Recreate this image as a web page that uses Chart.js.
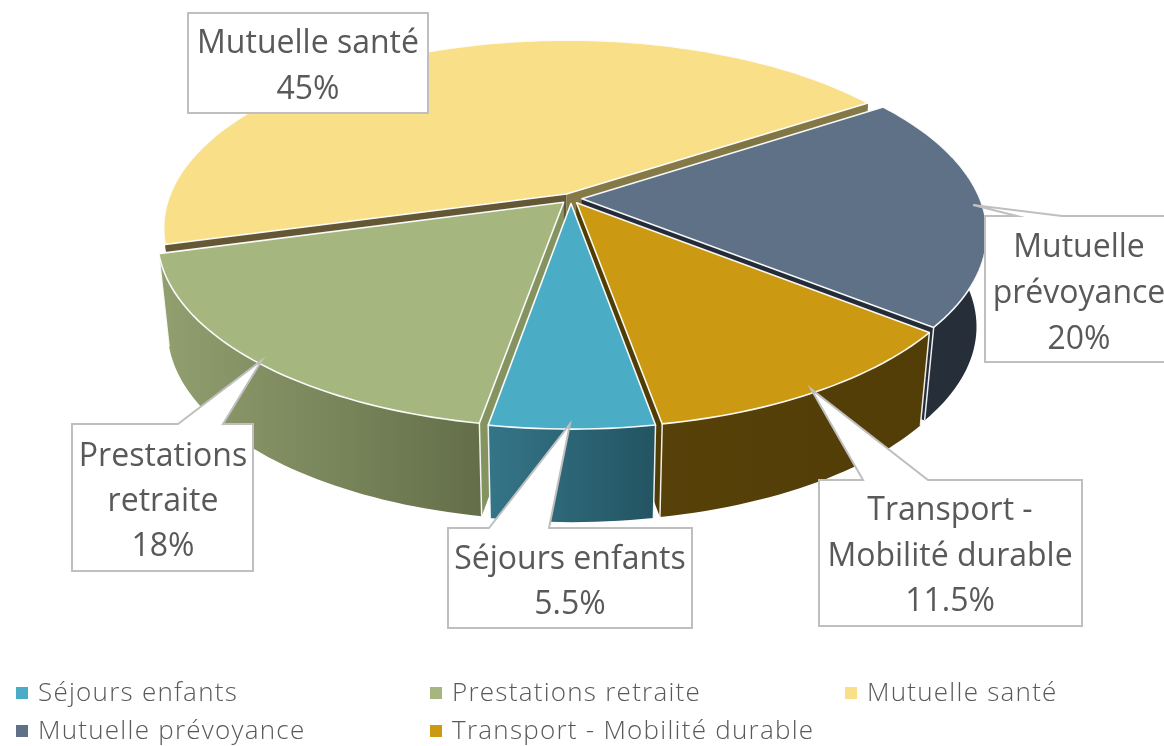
<!DOCTYPE html>
<html lang="fr">
<head>
    <meta charset="UTF-8">
    <title>Répartition</title>
    <script src="https://cdn.jsdelivr.net/npm/chart.js"></script>
    <style>
        body { margin: 0; background: #ffffff; }
        canvas { display: block; }
    </style>
</head>
<body>
    <canvas id="pie3d" width="1164" height="746"></canvas>
    <script>
        // data
        const labels = ['Séjours enfants', 'Prestations retraite', 'Mutuelle santé', 'Mutuelle prévoyance', 'Transport - Mobilité durable'];
        const values = [5.5, 18, 45, 20, 11.5];
        const calloutLines = [['Séjours enfants'], ['Prestations', 'retraite'], ['Mutuelle santé'], ['Mutuelle', 'prévoyance'], ['Transport -', 'Mobilité durable']];

        // colours
        const topColors = ['#4bacc6', '#a5b67f', '#f9e088', '#5f7186', '#cb9a12'];
        const wallFrom = ['#347588', '#929f6f', '#635735', '#252e39', '#574109'];
        const wallTo = ['#235462', '#646f49', '#857a47', '#252e39', '#523d07'];
        const cutColors = [['#347588', '#347588'], ['#84935f', '#84935f'], ['#635735', '#857a47'], ['#232c38', '#232c38'], ['#503c05', '#503c05']];
        const textColor = '#595959';
        const boxColor = '#bfbfbf';

        // projection of the pie plane
        const view = { cx: 571, cy: 198.5, A: 398, B: 183, p: 0.18, depth: 93, shrink: 0.975 };

        // callout boxes, same order as labels
        const boxes = [
            { x: 448, y: 528, w: 244, h: 100, tip: [570, 424], base: [489, 549], tx: 570, ty: [560, 605] },
            { x: 72, y: 424, w: 181, h: 147, tip: [262, 360], base: [178, 223], tx: 163, ty: [457, 502, 547] },
            { x: 188, y: 13, w: 240, h: 100, tx: 308, ty: [44, 90] },
            { x: 985, y: 216, w: 190, h: 146, tip: [973, 205], base: [1017, 1062], tx: 1079, ty: [248, 294, 340] },
            { x: 819, y: 480, w: 263, h: 146, tip: [811, 389], base: [863, 928], tx: 950, ty: [511, 557, 602] }
        ];
        const legendCols = [16, 430, 845];
        const legendRows = [694, 732];

        function project(u, v) {
            const w = 1 + view.p * v;
            return { x: view.cx + view.A * u / w, y: view.cy - view.B * v / w };
        }
        function lower(pt) {
            return { x: view.cx + (pt.x - view.cx) * view.shrink, y: pt.y + view.depth };
        }

        // outline of one slice from the arc element the library laid out
        function sliceOutline(el) {
            const off = el.options.offset / el.outerRadius;
            const mid = (el.startAngle + el.endAngle) / 2;
            const ou = Math.cos(mid) * off, ov = -Math.sin(mid) * off;
            const rim = [];
            const steps = Math.max(8, Math.ceil((el.endAngle - el.startAngle) * 40));
            for (let i = 0; i <= steps; i++) {
                const a = el.startAngle + (el.endAngle - el.startAngle) * i / steps;
                rim.push(project(ou + Math.cos(a), ov - Math.sin(a)));
            }
            return { apex: project(ou, ov), rim: rim, depthKey: ov };
        }

        function tracePoly(ctx, pts) {
            ctx.beginPath();
            pts.forEach((p, i) => i ? ctx.lineTo(p.x, p.y) : ctx.moveTo(p.x, p.y));
            ctx.closePath();
        }

        function drawLine(ctx, a, b) {
            ctx.beginPath();
            ctx.moveTo(a.x, a.y);
            ctx.lineTo(b.x, b.y);
            ctx.stroke();
        }

        const pie3d = {
            id: 'pie3d',
            beforeDatasetDraw(chart, args) {
                const ctx = chart.ctx;
                const slices = args.meta.data.map((el, i) => ({ i: i, o: sliceOutline(el) }));
                ctx.save();
                ctx.lineJoin = 'round';
                // walls first, back to front
                slices.slice().sort((a, b) => b.o.depthKey - a.o.depthKey).forEach(s => {
                    const { apex, rim } = s.o;
                    const first = rim[0], last = rim[rim.length - 1];
                    ctx.fillStyle = cutColors[s.i][0];
                    tracePoly(ctx, [apex, first, lower(first), lower(apex)]);
                    ctx.fill();
                    ctx.fillStyle = cutColors[s.i][1];
                    tracePoly(ctx, [apex, last, lower(last), lower(apex)]);
                    ctx.fill();
                    const xs = rim.map(p => p.x);
                    const grad = ctx.createLinearGradient(Math.min(...xs), 0, Math.max(...xs), 0);
                    grad.addColorStop(0, wallFrom[s.i]);
                    grad.addColorStop(1, wallTo[s.i]);
                    ctx.fillStyle = grad;
                    tracePoly(ctx, rim.concat(rim.map(lower).reverse()));
                    ctx.fill();
                    ctx.strokeStyle = 'rgba(255,255,255,0.9)';
                    ctx.lineWidth = 1.5;
                    if (s.i !== 2) {
                        drawLine(ctx, first, lower(first));
                        drawLine(ctx, last, lower(last));
                    }
                });
                // then the top faces
                slices.forEach(s => {
                    tracePoly(ctx, [s.o.apex].concat(s.o.rim));
                    ctx.fillStyle = topColors[s.i];
                    ctx.fill();
                    ctx.strokeStyle = 'rgba(255,255,255,0.95)';
                    ctx.lineWidth = 1.6;
                    ctx.stroke();
                });
                ctx.restore();
                return false;
            },
            afterDraw(chart) {
                const ctx = chart.ctx;
                ctx.save();
                // callouts
                boxes.forEach((b, i) => {
                    ctx.beginPath();
                    ctx.moveTo(b.x, b.y);
                    if (b.tip) {
                        ctx.lineTo(b.base[0], b.y);
                        ctx.lineTo(b.tip[0], b.tip[1]);
                        ctx.lineTo(b.base[1], b.y);
                    }
                    ctx.lineTo(b.x + b.w, b.y);
                    ctx.lineTo(b.x + b.w, b.y + b.h);
                    ctx.lineTo(b.x, b.y + b.h);
                    ctx.closePath();
                    ctx.fillStyle = '#ffffff';
                    ctx.fill();
                    ctx.strokeStyle = boxColor;
                    ctx.lineWidth = 2;
                    ctx.stroke();
                    ctx.fillStyle = textColor;
                    ctx.font = '400 32px "Open Sans"';
                    ctx.textAlign = 'center';
                    ctx.textBaseline = 'middle';
                    calloutLines[i].concat(values[i] + '%').forEach((line, k) => {
                        ctx.fillText(line, b.tx, b.ty[k]);
                    });
                });
                // legend, three columns
                ctx.font = '300 26px "Open Sans"';
                ctx.letterSpacing = '1.25px';
                ctx.textAlign = 'left';
                labels.forEach((label, i) => {
                    const x = legendCols[i % 3], y = legendRows[Math.floor(i / 3)];
                    ctx.fillStyle = topColors[i];
                    ctx.fillRect(x, y - 7, 12, 12);
                    ctx.fillStyle = textColor;
                    ctx.fillText(label, x + 22, y);
                });
                ctx.restore();
            }
        };

        new Chart(document.getElementById('pie3d'), {
            type: 'pie',
            data: {
                labels: labels,
                datasets: [{ data: values, backgroundColor: topColors, offset: 10 }]
            },
            options: {
                responsive: false,
                animation: false,
                rotation: 170,
                plugins: { legend: { display: false }, tooltip: { enabled: false } }
            },
            plugins: [pie3d]
        });
    </script>
</body>
</html>
